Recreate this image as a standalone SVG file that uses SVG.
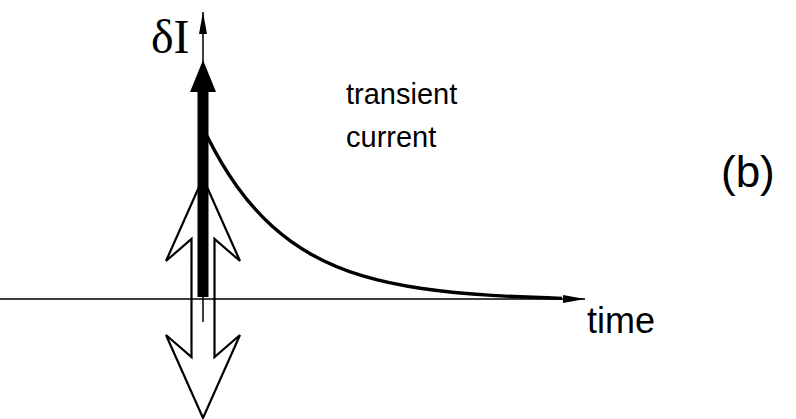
<svg xmlns="http://www.w3.org/2000/svg" width="796" height="419" viewBox="0 0 796 419">
  <style>
    .axis { stroke: #000; stroke-width: 1.5; fill: none; }
    .sans { font-family: "Liberation Sans", Arial, sans-serif; fill: #000; }
    .serif { font-family: "Liberation Serif", "Times New Roman", serif; fill: #000; }
  </style>
  <defs>
    <marker id="axhead" markerWidth="24" markerHeight="10" refX="22" refY="4" orient="auto" markerUnits="userSpaceOnUse">
      <path d="M0,0 L22,4 L0,8 Z" fill="#000"/>
    </marker>
  </defs>
  <rect width="796" height="419" fill="#fff"/>
  <g id="connectors">
    <line id="time-axis" class="axis" x1="0" y1="299" x2="585" y2="299" marker-end="url(#axhead)"/>
    <line id="current-axis" class="axis" x1="203" y1="322" x2="203" y2="12" marker-end="url(#axhead)"/>
  </g>
  <g id="hollow-arrow">
    <polygon points="203,178 240,261 214.5,239 214.5,357 240,335 203,418 166,335 191.5,357 191.5,239 166,261" fill="none" stroke="#000" stroke-width="2.2" stroke-linejoin="miter"/>
  </g>
  <g id="impulse-arrow">
    <rect x="197.5" y="90" width="11" height="207" fill="#000"/>
    <polygon points="203,60 216,92 190,92" fill="#000"/>
  </g>
  <g id="transient-curve">
    <path d="M207,136 C217,156.06 227,172.49 237,186.4 C248.67,202.63 260.33,215.46 272,226.05 C285.33,238.16 298.67,247.35 312,254.78 C328.67,264.07 345.33,270.61 362,275.66 C382,281.72 402,285.62 422,288.54 C445.33,291.94 468.67,293.96 492,295.41 C515.33,296.86 538.67,297.71 562,298.33" fill="none" stroke="#000" stroke-width="3.4" stroke-linecap="butt"/>
  </g>
  <g id="labels">
    <text id="label-dI" class="serif" x="151" y="53" font-size="48">δI</text>
    <text id="label-transient" class="sans" x="346" y="104" font-size="29">transient</text>
    <text id="label-current" class="sans" x="346" y="147" font-size="29">current</text>
    <text id="label-b" class="sans" x="721" y="187" font-size="44">(b)</text>
    <text id="label-time" class="sans" x="587" y="333" font-size="36">time</text>
  </g>
</svg>
